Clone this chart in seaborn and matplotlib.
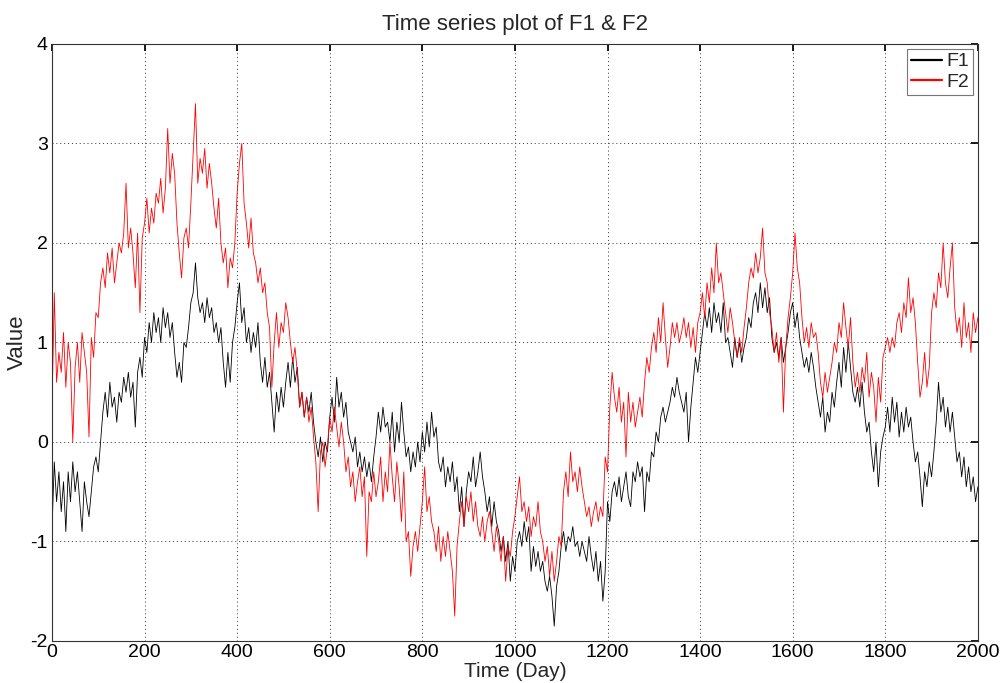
import numpy as np
import pandas as pd
import matplotlib
matplotlib.use("Agg")
import matplotlib.pyplot as plt
import seaborn as sns

# Values every 5 days (day 0 .. 2000)
f1_values = [
    -0.9, -0.2, -0.6, -0.3, -0.7, -0.4, -0.9, -0.3, -0.6, -0.2,
    -0.5, -0.3, -0.6, -0.9, -0.4, -0.6, -0.75, -0.5, -0.25, -0.15,
    -0.3, 0.0, 0.3, 0.5, 0.25, 0.6, 0.35, 0.45, 0.2, 0.5,
    0.4, 0.65, 0.5, 0.7, 0.45, 0.6, 0.15, 0.7, 0.85, 0.65,
    1.05, 0.9, 1.2, 1.0, 1.3, 1.1, 1.25, 1.0, 1.35, 1.15,
    1.3, 1.05, 1.2, 0.9, 0.65, 0.8, 0.6, 1.0, 0.95, 1.15,
    1.4, 1.5, 1.8, 1.45, 1.3, 1.4, 1.2, 1.45, 1.25, 1.35,
    1.1, 1.2, 1.0, 1.15, 0.8, 0.55, 0.9, 0.6, 1.0, 1.15,
    1.4, 1.6, 1.2, 1.35, 1.0, 1.15, 0.9, 1.1, 0.95, 1.2,
    0.8, 0.6, 0.85, 0.55, 0.7, 0.4, 0.1, 0.5, 0.3, 0.55,
    0.35, 0.6, 0.8, 0.55, 0.85, 0.6, 0.75, 0.35, 0.5, 0.25,
    0.45, 0.3, 0.5, 0.2, 0.0, -0.15, 0.05, -0.2, 0.0, -0.1,
    0.25, 0.45, 0.2, 0.65, 0.35, 0.5, 0.25, 0.4, 0.1, 0.0,
    -0.1, 0.05, -0.25, -0.1, -0.3, -0.15, -0.35, -0.2, -0.4, -0.15,
    0.05, 0.3, 0.1, 0.35, 0.15, 0.2, 0.0, 0.3, -0.1, 0.2,
    0.0, 0.4, 0.1, -0.15, -0.05, -0.3, -0.1, -0.25, 0.0, -0.2,
    0.1, -0.1, 0.2, -0.05, 0.3, 0.05, 0.15, -0.2, -0.3, -0.15,
    -0.45, -0.25, -0.4, -0.2, -0.5, -0.35, -0.7, -0.45, -0.85, -0.5,
    -0.3, -0.4, -0.15, -0.45, -0.3, -0.1, -0.35, -0.5, -0.7, -0.55,
    -0.85, -0.6, -0.8, -0.9, -1.1, -0.95, -1.2, -1.0, -1.4, -1.15,
    -1.3, -1.0, -0.9, -1.05, -0.8, -1.0, -0.85, -1.3, -1.05, -1.25,
    -1.1, -1.3, -1.2, -1.4, -1.5, -1.35, -1.55, -1.85, -1.45, -1.3,
    -1.05, -0.9, -1.1, -0.95, -1.0, -0.85, -1.05, -1.0, -1.15, -1.0,
    -1.1, -1.2, -0.95, -1.15, -1.3, -1.1, -1.4, -1.2, -1.6, -1.3,
    -0.6, -0.8, -0.5, -0.4, -0.55, -0.35, -0.6, -0.45, -0.3, -0.55,
    -0.65, -0.3, -0.4, -0.2, -0.35, -0.25, -0.7, -0.3, -0.4, -0.1,
    -0.15, 0.1, 0.0, 0.25, 0.35, 0.2, 0.3, 0.4, 0.55, 0.45,
    0.65, 0.5, 0.4, 0.3, 0.5, 0.0, 0.35, 0.6, 0.85, 0.7,
    0.9, 1.1, 1.3, 1.15, 1.35, 1.1, 1.4, 1.2, 1.3, 1.1,
    1.4, 1.0, 1.05, 0.9, 0.75, 1.05, 0.85, 1.0, 0.8, 0.95,
    1.05, 1.25, 1.15, 1.4, 1.5, 1.3, 1.6, 1.35, 1.55, 1.3,
    1.45, 1.05, 0.9, 1.0, 0.85, 1.05, 0.8, 0.95, 1.1, 1.3,
    1.4, 1.15, 1.3, 1.05, 0.9, 0.75, 0.85, 0.7, 0.9, 0.75,
    0.55, 0.4, 0.25, 0.45, 0.1, 0.3, 0.2, 0.5, 0.35, 0.6,
    0.8, 0.55, 0.95, 0.7, 1.0, 0.75, 0.5, 0.4, 0.55, 0.35,
    0.6, 0.3, 0.1, 0.2, -0.1, -0.3, 0.0, -0.45, -0.1, 0.05,
    0.15, 0.35, 0.1, 0.45, 0.2, 0.4, 0.05, 0.3, 0.1, 0.35,
    0.15, 0.25, 0.0, -0.2, -0.1, -0.35, -0.65, -0.3, -0.45, -0.2,
    -0.35, -0.1, 0.2, 0.6, 0.3, 0.45, 0.15, 0.35, 0.1, 0.3,
    0.05, -0.2, -0.1, -0.35, -0.15, -0.45, -0.25, -0.5, -0.35, -0.6,
    -0.45,
]

f2_values = [
    0.3, 1.5, 0.6, 0.9, 0.7, 1.1, 0.55, 1.0, 0.8, 0.0,
    0.75, 1.0, 0.6, 1.1, 0.9, 0.7, 0.05, 1.05, 0.85, 1.3,
    1.25, 1.6, 1.75, 1.55, 1.9, 1.7, 1.95, 1.6, 1.8, 2.0,
    1.9, 2.1, 2.6, 1.95, 2.15, 1.9, 1.55, 2.1, 1.3, 2.05,
    2.2, 2.45, 2.1, 2.35, 2.2, 2.5, 2.4, 2.65, 2.3, 2.55,
    3.15, 2.6, 2.9, 2.7, 2.2, 1.9, 1.65, 2.05, 2.15, 1.95,
    2.4, 2.9, 3.4, 2.6, 2.85, 2.7, 2.95, 2.55, 2.8, 2.6,
    2.35, 2.15, 2.45, 2.0, 1.8, 1.95, 1.55, 1.85, 1.75, 2.0,
    2.5, 2.8, 3.0, 2.4, 2.2, 1.95, 2.25, 1.9, 1.8, 1.6,
    1.75, 1.5, 1.6, 1.3, 1.15, 0.55, 1.0, 1.3, 0.95, 1.2,
    1.1, 1.4, 1.25, 1.0, 0.8, 0.95, 0.7, 0.35, 0.5, 0.25,
    0.45, 0.2, 0.35, 0.05, -0.2, -0.7, -0.1, 0.0, -0.25, -0.05,
    0.25, 0.1, 0.35, 0.15, -0.05, 0.2, 0.0, -0.3, -0.15, -0.45,
    -0.3, -0.6, -0.4, -0.25, -0.55, -0.35, -1.15, -0.5, -0.6, -0.3,
    -0.55, -0.4, -0.15, -0.6, -0.3, -0.5, 0.0, -0.35, -0.6, -0.2,
    -0.45, -0.8, -0.3, -1.0, -0.9, -1.35, -1.05, -0.9, -1.1, -0.85,
    -0.6, -0.25, -0.7, -0.55, -0.8, -0.9, -1.1, -0.85, -1.2, -0.95,
    -1.15, -0.9, -1.1, -1.3, -1.75, -1.05, -0.8, -0.6, -0.85, -0.55,
    -0.7, -0.5, -0.8, -0.6, -0.85, -0.95, -0.75, -1.0, -0.8, -0.7,
    -0.9, -1.1, -0.85, -1.0, -1.2, -0.95, -1.4, -1.05, -1.15, -0.9,
    -0.75, -0.55, -0.35, -0.7, -0.6, -0.8, -0.65, -0.95, -0.75, -0.85,
    -0.6, -0.9, -1.0, -1.2, -1.05, -1.35, -1.1, -1.4, -1.2, -0.95,
    -1.05, -0.5, -0.3, -0.55, -0.1, -0.4, -0.3, -0.5, -0.25, -0.45,
    -0.6, -0.75, -0.65, -0.85, -0.7, -0.6, -0.8, -0.65, -0.75, -0.15,
    -0.3, 0.35, 0.7, 0.45, 0.3, 0.55, 0.2, 0.4, -0.15, 0.5,
    0.2, 0.4, 0.15, 0.3, 0.45, 0.25, 0.6, 0.85, 0.7, 0.95,
    1.1, 0.9, 1.25, 1.0, 1.4, 1.05, 0.75, 0.95, 1.2, 1.05,
    1.2, 1.0, 1.1, 1.25, 1.05, 1.2, 0.95, 1.15, 0.9, 1.2,
    1.3, 1.5, 1.25, 1.6, 1.4, 1.75, 1.5, 2.0, 1.6, 1.7,
    1.5, 1.3, 1.1, 1.35, 1.2, 1.0, 0.85, 1.05, 0.9, 1.15,
    1.35, 1.6, 1.75, 1.65, 1.9, 1.7, 1.85, 2.15, 1.7, 1.6,
    1.3, 1.15, 0.9, 1.1, 0.8, 1.05, 0.3, 0.95, 1.25, 1.45,
    1.7, 2.1, 1.75, 1.6, 1.25, 1.0, 1.15, 0.95, 1.2, 1.05,
    1.1, 0.9, 0.6, 0.45, 0.7, 0.5, 0.65, 0.8, 1.0, 0.9,
    1.2, 1.05, 1.4, 1.15, 0.95, 1.25, 0.8, 0.55, 0.7, 0.5,
    0.75, 0.6, 0.9, 0.45, 0.7, 0.55, 0.2, 0.65, 0.4, 0.85,
    0.95, 1.05, 0.9, 1.05, 0.95, 1.2, 1.3, 1.1, 1.4, 1.25,
    1.65, 1.3, 1.45, 1.2, 0.8, 0.45, 0.6, 0.9, 0.55, 0.75,
    1.3, 1.5, 1.35, 1.7, 1.55, 2.0, 1.6, 1.45, 1.75, 2.0,
    1.35, 1.1, 1.25, 0.95, 1.4, 1.05, 1.2, 0.9, 1.3, 1.1,
    1.25,
]

days = list(range(0, 2001, 5))
series_names = ["F1", "F2"]
series_colors = ["#000000", "#ff0000"]
x_ticks = [0, 200, 400, 600, 800, 1000, 1200, 1400, 1600, 1800, 2000]
y_ticks = [-2, -1, 0, 1, 2, 3, 4]

df = pd.DataFrame({
    "day": days * 2,
    "value": f1_values + f2_values,
    "series": ["F1"] * len(days) + ["F2"] * len(days),
})

sns.set_theme(style="white")
plt.rcParams["font.family"] = ["Liberation Sans", "DejaVu Sans"]
plt.rcParams["axes.unicode_minus"] = False

fig = plt.figure(figsize=(10.05, 6.83), dpi=100)
ax = fig.add_axes([0.0517, 0.0615, 0.9213, 0.8741])

sns.lineplot(data=df, x="day", y="value", hue="series",
             hue_order=series_names, palette=series_colors,
             linewidth=0.6, ax=ax, legend=True)

ax.set_xlim(0, 2000)
ax.set_ylim(-2, 4)
ax.set_xticks(x_ticks)
ax.set_yticks(y_ticks)
ax.tick_params(direction="in", top=True, right=True, length=5,
               labelsize=14, colors="#000000")
ax.tick_params(axis="x", pad=2)
ax.tick_params(axis="y", pad=3)
for sp in ax.spines.values():
    sp.set_visible(True)
    sp.set_color("#333333")
    sp.set_linewidth(0.8)
ax.grid(True, color="#333333", linestyle=(0, (1, 3)), linewidth=0.7)
ax.set_axisbelow(True)

ax.set_title("Time series plot of F1 & F2", fontsize=16, pad=10)
ax.set_xlabel("Time (Day)", fontsize=15, labelpad=1)
ax.set_ylabel("Value", fontsize=16, labelpad=2)

handles, labels = ax.get_legend_handles_labels()
for h in handles:
    h.set_linewidth(1.6)
leg = ax.legend(handles, labels, loc="upper right", fontsize=14,
                frameon=True, fancybox=False, borderaxespad=0.25,
                handlelength=1.6, handletextpad=0.2, borderpad=0.2,
                labelspacing=0.15)
leg.get_frame().set_edgecolor("#555555")
leg.get_frame().set_linewidth(0.8)

fig.savefig("out.png", dpi=100, facecolor="white")
